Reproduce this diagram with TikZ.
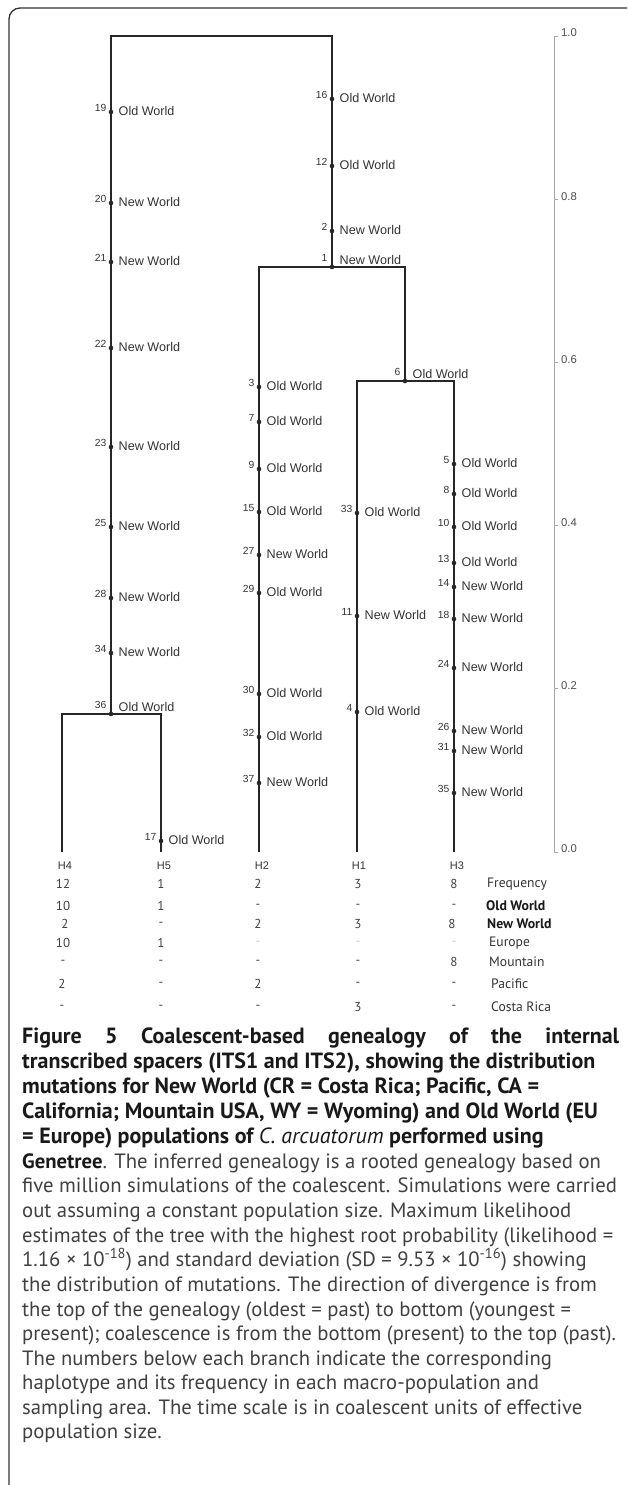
\documentclass[tikz,border=0pt]{standalone}
\usepackage{fontspec}
\setmainfont{PT Sans}
\newfontfamily\tf{Liberation Sans}
\begin{document}
\begin{tikzpicture}[x=1pt,y=-1pt,
  frame/.style={line width=1.3pt, draw=black!80, rounded corners=11pt},
  branch/.style={line width=1.5pt, draw=black!85},
  dot/.style={circle, fill=black!85, inner sep=0pt, minimum size=4.6pt},
  num/.style={font=\tf\fontsize{10.3}{11}\selectfont, text=black!80, inner sep=0pt, anchor=east},
  lab/.style={font=\tf\fontsize{12.6}{13}\selectfont, text=black!80, inner sep=0pt, anchor=west},
  scalebar/.style={line width=0.8pt, draw=black!35},
  slab/.style={font=\tf\fontsize{11.3}{12}\selectfont, text=black!70, inner sep=0pt, anchor=west},
  hlab/.style={font=\tf\fontsize{11}{12}\selectfont, text=black!80, inner sep=0pt},
  cell/.style={font=\fontsize{13}{14}\selectfont, text=black!75, inner sep=0pt},
  rlab/.style={font=\fontsize{13.6}{14}\selectfont, text=black!80, inner sep=0pt, anchor=west},
  rlabb/.style={font=\bfseries\fontsize{13.8}{14}\selectfont, text=black!90, inner sep=0pt, anchor=west},
  capb/.style={font=\bfseries\fontsize{22}{22}\selectfont, text=black!90, inner sep=0pt, anchor=base west},
  capr/.style={font=\fontsize{20.7}{22}\selectfont, text=black!75, inner sep=0pt, anchor=base west}]
\useasboundingbox (0,0) rectangle (627,1485);
\clip (0,0) rectangle (627,1485);
% frame
\draw[frame] (640,8) -- (9,8) -- (9,1497) -- (640,1497);

\newcommand\mut[4]{%
  \node[dot] (m#1) at (#2,#3) {};
  \node[num] (n#1) at (#2-4.5,#3-4) {#1};
  \node[lab] (t#1) at (#2+7.5,#3-1) {#4};}
\newcommand\jmut[4]{%
  \node[dot] (m#1) at (#2,#3) {};
  \node[num] (n#1) at (#2-4.5,#3-9) {#1};
  \node[lab] (t#1) at (#2+7.5,#3-7) {#4};}

% skeleton coordinates
\coordinate (rootL) at (111,36);
\coordinate (rootR) at (332,36);
\coordinate (j36) at (111,714);
\coordinate (j1) at (332,267);
\coordinate (j6) at (405,381);
\coordinate (H4) at (62,852);
\coordinate (H5) at (161,852);
\coordinate (H2) at (259,852);
\coordinate (H1) at (357,852);
\coordinate (H3) at (454,852);

% branches
\draw[branch] (j36) -- (rootL) -- (rootR) -- (j1);
\draw[branch] (H4) |- (j36) -| (H5);
\draw[branch] (H2) |- (j1) -| (j6);
\draw[branch] (H1) |- (j6) -| (H3);

% mutations, left lineage
\mut{19}{111}{112}{Old World}
\mut{20}{111}{203}{New World}
\mut{21}{111}{262}{New World}
\mut{22}{111}{348}{New World}
\mut{23}{111}{447}{New World}
\mut{25}{111}{527}{New World}
\mut{28}{111}{598}{New World}
\mut{34}{111}{653}{New World}
\jmut{36}{111}{714}{Old World}
% upper right
\mut{16}{332}{99}{Old World}
\mut{12}{332}{166}{Old World}
\mut{2}{332}{231}{New World}
\jmut{1}{332}{267}{New World}
% H2
\mut{3}{259}{387}{Old World}
\mut{7}{259}{422}{Old World}
\mut{9}{259}{469}{Old World}
\mut{15}{259}{512}{Old World}
\mut{27}{259}{555}{New World}
\mut{29}{259}{593}{Old World}
\mut{30}{259}{694}{Old World}
\mut{32}{259}{737}{Old World}
\mut{37}{259}{783}{New World}
% junction 6
\jmut{6}{405}{381}{Old World}
% H1
\mut{33}{357}{513}{Old World}
\mut{11}{357}{616}{New World}
\mut{4}{357}{712}{Old World}
% H3
\mut{5}{454}{464}{Old World}
\mut{8}{454}{494}{Old World}
\mut{10}{454}{527}{Old World}
\mut{13}{454}{563}{Old World}
\mut{14}{454}{587}{New World}
\mut{18}{454}{619}{New World}
\mut{24}{454}{668}{New World}
\mut{26}{454}{731}{New World}
\mut{31}{454}{751}{New World}
\mut{35}{454}{793}{New World}
% H5
\mut{17}{161}{841}{Old World}

% time scale
\coordinate (sTop) at (554,36);
\coordinate (sBot) at (554,852);
\draw[scalebar] (sTop) -- (sBot);
\foreach \v/\yy [count=\i] in {1.0/36,0.8/199.2,0.6/362.4,0.4/525.6,0.2/688.8,0.0/852}{
  \coordinate (tk\i) at (554,\yy);
  \draw[scalebar] (tk\i) -- ++(4,0);
  \node[slab] (sl\i) at (561,\yy-3) {\v};
}

% haplotype labels
\foreach \x/\v [count=\i] in {65/H4,164/H5,262/H2,359/H1,457/H3}
  \node[hlab] (h\i) at (\x,866) {\v};

% table
\foreach \x/\v [count=\i] in {63/12,161/1,258/2,358/3,454/8}
  \node[cell] (fr\i) at (\x,884) {\v};
\node[rlab] (rfr) at (487,884) {Frequency};
\foreach \x/\v [count=\i] in {63/10,161/1,258/-,358/-,454/-}
  \node[cell] (ow\i) at (\x,906) {\v};
\node[rlabb] (row) at (486,906) {Old World};
\foreach \x/\v [count=\i] in {65/2,161/-,258/2,358/3,452/8}
  \node[cell] (nw\i) at (\x,924) {\v};
\node[rlabb] (rnw) at (487,924) {New World};
\foreach \x/\v [count=\i] in {63/10,161/1}
  \node[cell] (eu\i) at (\x,943) {\v};
\foreach \x [count=\i] in {258,358,454}
  \node[cell,text=black!20] (euf\i) at (\x,943) {-};
\node[rlab] (reu) at (489,943) {Europe};
\foreach \x/\v [count=\i] in {63/-,161/-,258/-,358/-,454/8}
  \node[cell] (mo\i) at (\x,962) {\v};
\node[rlab] (rmo) at (489,962) {Mountain};
\foreach \x/\v [count=\i] in {62/2,161/-,258/2,358/-,454/-}
  \node[cell] (pa\i) at (\x,984) {\v};
\node[rlab] (rpa) at (491,984) {Pacific};
\foreach \x/\v [count=\i] in {62/-,161/-,258/-,358/3,454/-}
  \node[cell] (cr\i) at (\x,1007) {\v};
\node[rlab] (rcr) at (491,1007) {Costa Rica};

% caption
\node[capb] (c1) at (22,1043) {\makebox[597pt][s]{Figure 5 Coalescent-based genealogy of the internal}};
\node[capb] (c2) at (22,1068) {transcribed spacers (ITS1 and ITS2), showing the distribution};
\node[capb] (c3) at (22,1093) {mutations for New World (CR = Costa Rica; Pacific, CA =};
\node[capb] (c4) at (22,1118) {California; Mountain USA, WY = Wyoming) and Old World (EU};
\node[capb] (c5) at (22,1143) {= Europe) populations of {\mdseries\itshape C. arcuatorum} performed using};
\node[capr] (c6) at (22,1168) {\textbf{\color{black!90}Genetree}. The inferred genealogy is a rooted genealogy based on};
\node[capr] (c7) at (22,1192) {five million simulations of the coalescent. Simulations were carried};
\node[capr] (c8) at (22,1217) {out assuming a constant population size. Maximum likelihood};
\node[capr] (c9) at (22,1242) {estimates of the tree with the highest root probability (likelihood =};
\node[capr] (c10) at (22,1266) {1.16 × 10\textsuperscript{-18}) and standard deviation (SD = 9.53 × 10\textsuperscript{-16}) showing};
\node[capr] (c11) at (22,1291) {the distribution of mutations. The direction of divergence is from};
\node[capr] (c12) at (22,1316) {the top of the genealogy (oldest = past) to bottom (youngest =};
\node[capr] (c13) at (22,1340) {present); coalescence is from the bottom (present) to the top (past).};
\node[capr] (c14) at (22,1365) {The numbers below each branch indicate the corresponding};
\node[capr] (c15) at (22,1389) {haplotype and its frequency in each macro-population and};
\node[capr] (c16) at (22,1414) {sampling area. The time scale is in coalescent units of effective};
\node[capr] (c17) at (22,1438) {population size.};
\end{tikzpicture}
\end{document}
